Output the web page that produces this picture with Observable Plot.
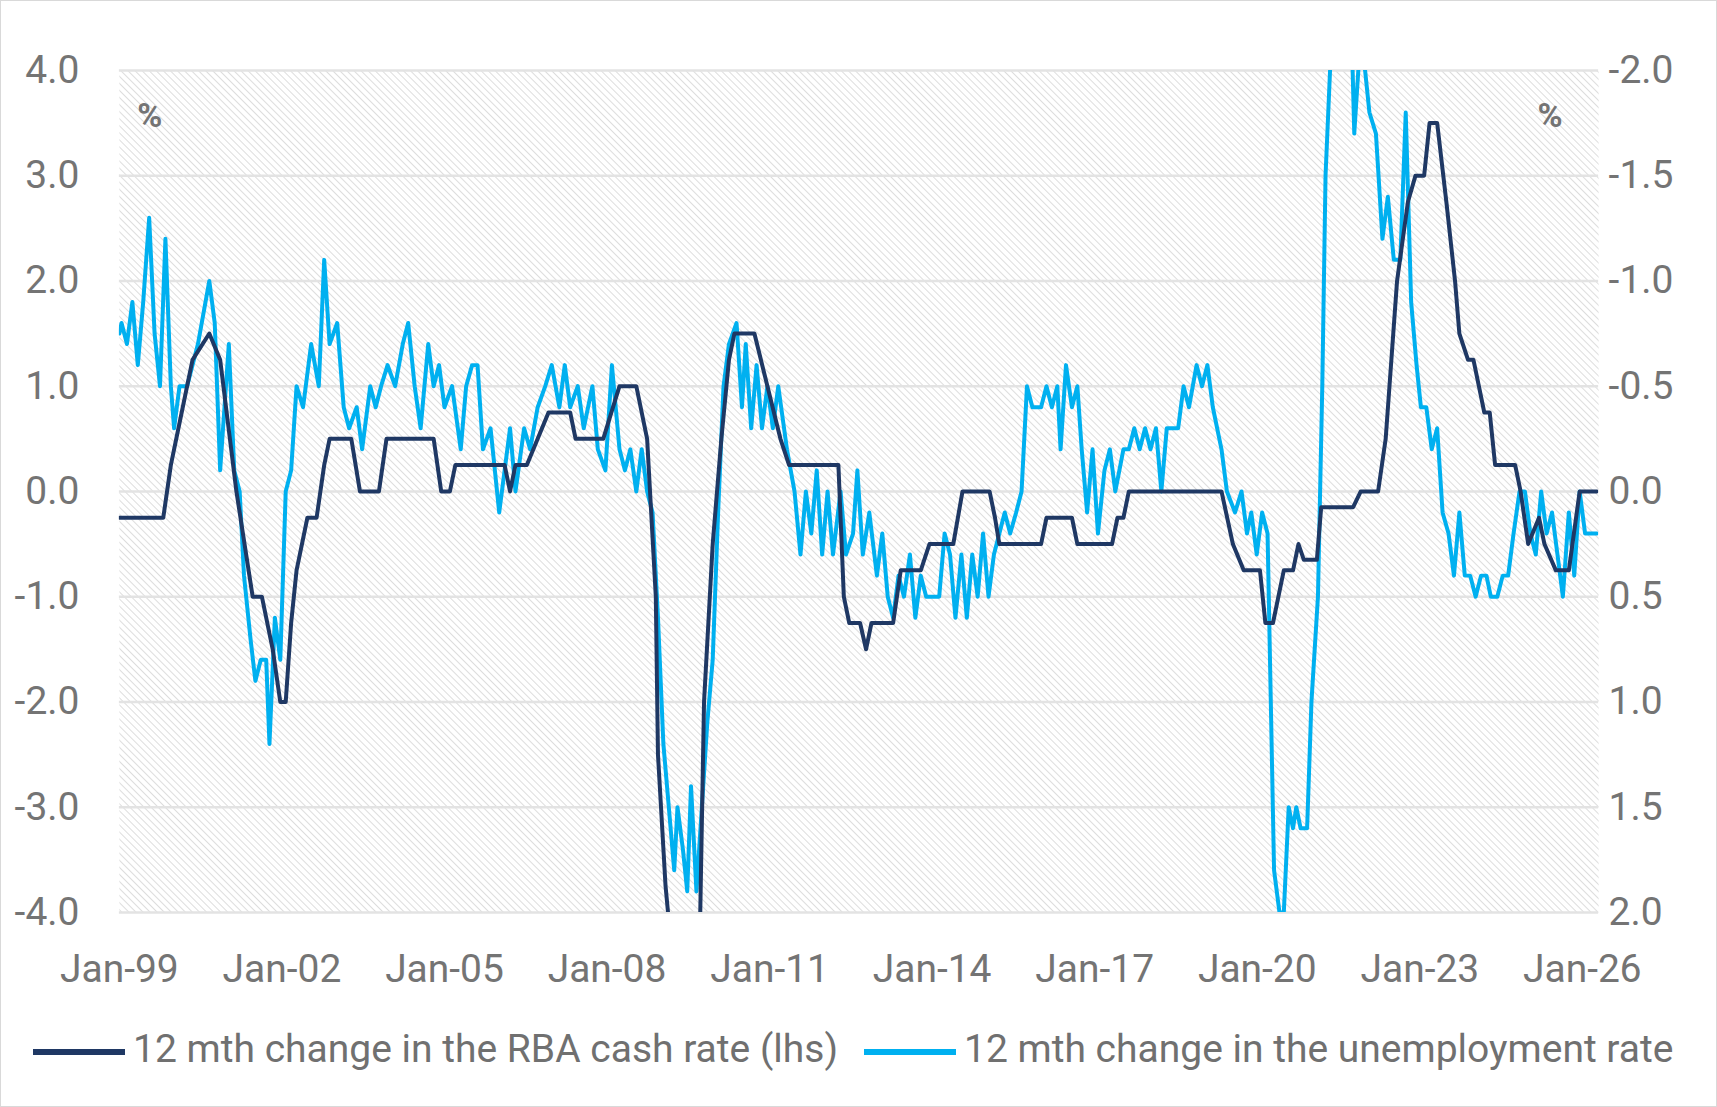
<!DOCTYPE html>
<html><head><meta charset="utf-8">
<script src="https://cdn.jsdelivr.net/npm/d3@7"></script>
<script src="https://cdn.jsdelivr.net/npm/@observablehq/plot@0.6"></script>
<style>
body{margin:0;background:#fff;font-family:Roboto,sans-serif;}
#wrap{position:relative;width:1715px;height:1105px;border:1px solid #d9d9d9;}
#legend{position:absolute;top:1025px;left:32px;display:flex;gap:26px;font-size:39px;color:#707070;align-items:center;white-space:nowrap;}
.sw{display:inline-block;width:92px;height:6px;margin-right:8px;vertical-align:middle;}
</style></head><body>
<div id="wrap"><div id="chart"></div>
<div id="legend"><span><span class="sw" style="background:#1f3864"></span>12 mth change in the RBA cash rate (lhs)</span><span><span class="sw" style="background:#00b0f0"></span>12 mth change in the unemployment rate</span></div></div>
<script>
const cashT=[1999.00,1999.81,1999.95,2000.15,2000.35,2000.66,2000.86,2001.16,2001.46,2001.63,2001.83,2001.97,2002.07,2002.17,2002.27,2002.47,2002.64,2002.78,2002.88,2003.28,2003.44,2003.79,2003.93,2004.80,2004.94,2005.10,2005.20,2006.11,2006.21,2006.31,2006.52,2006.72,2006.92,2007.32,2007.42,2007.93,2008.23,2008.54,2008.74,2008.90,2008.94,2009.08,2009.18,2009.71,2009.79,2009.95,2010.11,2010.25,2010.35,2010.72,2010.96,2011.20,2011.36,2012.27,2012.37,2012.47,2012.67,2012.78,2012.88,2013.28,2013.42,2013.79,2013.95,2014.39,2014.56,2015.06,2015.16,2015.24,2016.01,2016.11,2016.58,2016.68,2017.32,2017.42,2017.53,2017.63,2019.34,2019.55,2019.75,2020.05,2020.15,2020.29,2020.49,2020.66,2020.76,2020.86,2021.10,2021.18,2021.77,2021.91,2022.23,2022.37,2022.58,2022.78,2022.92,2023.08,2023.18,2023.32,2023.49,2023.65,2023.73,2023.89,2023.99,2024.09,2024.19,2024.29,2024.39,2024.76,2024.86,2025.00,2025.20,2025.30,2025.51,2025.75,2025.95,2026.27];
const cashV=[-0.25,-0.25,0.25,0.75,1.25,1.5,1.25,0,-1,-1,-1.5,-2,-2,-1.25,-0.75,-0.25,-0.25,0.25,0.5,0.5,0,0,0.5,0.5,0,0,0.25,0.25,0,0.25,0.25,0.5,0.75,0.75,0.5,0.5,1,1,0.5,-1,-2.5,-3.75,-4.3,-4.3,-2,-0.5,0.5,1.25,1.5,1.5,1,0.5,0.25,0.25,-1,-1.25,-1.25,-1.5,-1.25,-1.25,-0.75,-0.75,-0.5,-0.5,0,0,-0.25,-0.5,-0.5,-0.25,-0.25,-0.5,-0.5,-0.25,-0.25,0,0,-0.5,-0.75,-0.75,-1.25,-1.25,-0.75,-0.75,-0.5,-0.65,-0.65,-0.15,-0.15,0,0,0.5,2,2.75,3,3,3.5,3.5,2.75,2,1.5,1.25,1.25,1,0.75,0.75,0.25,0.25,0,-0.5,-0.25,-0.5,-0.75,-0.75,0,0];
const unempT=[1999.00,1999.04,1999.14,1999.24,1999.34,1999.44,1999.55,1999.65,1999.75,1999.85,1999.95,2000.01,2000.11,2000.25,2000.45,2000.66,2000.76,2000.86,2001.02,2001.12,2001.22,2001.30,2001.42,2001.51,2001.61,2001.71,2001.77,2001.87,2001.97,2002.07,2002.17,2002.27,2002.39,2002.54,2002.68,2002.78,2002.88,2003.02,2003.14,2003.24,2003.38,2003.48,2003.63,2003.73,2003.83,2003.95,2004.09,2004.23,2004.33,2004.45,2004.56,2004.70,2004.80,2004.90,2005.00,2005.14,2005.30,2005.40,2005.51,2005.61,2005.71,2005.85,2006.01,2006.11,2006.21,2006.31,2006.47,2006.58,2006.72,2006.86,2006.98,2007.12,2007.22,2007.32,2007.46,2007.57,2007.73,2007.83,2007.97,2008.09,2008.23,2008.33,2008.43,2008.54,2008.64,2008.74,2008.84,2008.94,2009.04,2009.14,2009.24,2009.30,2009.40,2009.48,2009.55,2009.65,2009.75,2009.85,2009.95,2010.05,2010.15,2010.25,2010.39,2010.49,2010.56,2010.66,2010.76,2010.86,2010.96,2011.06,2011.16,2011.32,2011.46,2011.57,2011.67,2011.77,2011.87,2011.97,2012.07,2012.17,2012.31,2012.41,2012.54,2012.62,2012.72,2012.84,2012.98,2013.08,2013.18,2013.28,2013.38,2013.48,2013.59,2013.69,2013.79,2013.89,2014.13,2014.23,2014.33,2014.43,2014.54,2014.64,2014.74,2014.84,2014.94,2015.04,2015.14,2015.24,2015.34,2015.44,2015.55,2015.65,2015.75,2015.85,2016.01,2016.11,2016.21,2016.31,2016.37,2016.47,2016.58,2016.68,2016.76,2016.86,2016.96,2017.06,2017.18,2017.28,2017.38,2017.53,2017.63,2017.73,2017.83,2017.93,2018.03,2018.13,2018.23,2018.33,2018.54,2018.64,2018.74,2018.88,2018.98,2019.08,2019.18,2019.34,2019.44,2019.59,2019.71,2019.81,2019.89,2019.99,2020.09,2020.19,2020.25,2020.31,2020.41,2020.49,2020.58,2020.66,2020.72,2020.80,2020.92,2021.00,2021.12,2021.20,2021.26,2021.36,2021.51,2021.63,2021.73,2021.79,2021.89,2021.99,2022.07,2022.19,2022.31,2022.41,2022.52,2022.64,2022.74,2022.84,2022.94,2023.02,2023.12,2023.22,2023.32,2023.42,2023.53,2023.63,2023.73,2023.83,2023.93,2024.03,2024.13,2024.23,2024.31,2024.43,2024.53,2024.63,2024.73,2024.84,2024.94,2025.04,2025.14,2025.24,2025.34,2025.44,2025.54,2025.64,2025.75,2025.85,2025.95,2026.05,2026.27];
const unempV=[-0.75,-0.8,-0.7,-0.9,-0.6,-0.9,-1.3,-0.75,-0.5,-1.2,-0.5,-0.3,-0.5,-0.5,-0.7,-1.0,-0.8,-0.1,-0.7,-0.1,0,0.4,0.7,0.9,0.8,0.8,1.2,0.6,0.8,0,-0.1,-0.5,-0.4,-0.7,-0.5,-1.1,-0.7,-0.8,-0.4,-0.3,-0.4,-0.2,-0.5,-0.4,-0.5,-0.6,-0.5,-0.7,-0.8,-0.5,-0.3,-0.7,-0.5,-0.6,-0.4,-0.5,-0.2,-0.5,-0.6,-0.6,-0.2,-0.3,0.1,-0.1,-0.3,0,-0.3,-0.2,-0.4,-0.5,-0.6,-0.4,-0.6,-0.4,-0.5,-0.3,-0.5,-0.2,-0.1,-0.6,-0.2,-0.1,-0.2,0,-0.2,0,0.1,0.6,1.2,1.5,1.8,1.5,1.7,1.9,1.4,1.9,1.5,1.1,0.8,0.1,-0.5,-0.7,-0.8,-0.4,-0.7,-0.3,-0.6,-0.3,-0.5,-0.3,-0.5,-0.2,0,0.3,0,0.2,-0.1,0.3,0,0.3,0,0.3,0.2,-0.1,0.3,0.1,0.4,0.2,0.5,0.6,0.4,0.5,0.3,0.6,0.4,0.5,0.5,0.2,0.3,0.6,0.3,0.6,0.3,0.5,0.2,0.5,0.3,0.2,0.1,0.2,0.1,0,-0.5,-0.4,-0.4,-0.5,-0.4,-0.5,-0.2,-0.6,-0.4,-0.5,-0.2,0.1,-0.2,0.2,-0.1,-0.2,0,-0.2,-0.2,-0.3,-0.2,-0.3,-0.2,-0.3,0,-0.3,-0.3,-0.5,-0.4,-0.6,-0.5,-0.6,-0.4,-0.2,0,0.1,0,0.2,0.1,0.3,0.1,0.2,1.0,1.8,2.0,2.0,1.5,1.6,1.5,1.6,1.6,1.0,0.5,-0.5,-1.5,-2.1,-2.3,-2.1,-2.3,-1.7,-2.1,-2.0,-1.8,-1.7,-1.2,-1.4,-1.1,-1.1,-1.8,-0.9,-0.6,-0.4,-0.4,-0.2,-0.3,0.1,0.2,0.4,0.1,0.4,0.4,0.5,0.4,0.4,0.5,0.5,0.4,0.4,0.2,0,0,0.2,0.3,0,0.2,0.1,0.3,0.5,0.1,0.4,0,0.2,0.2];
const xTicks=[1999,2002,2005,2008,2011,2014,2017,2020,2023,2026];
const yTicks=[-4,-3,-2,-1,0,1,2,3,4];
const cash=cashT.map((t,i)=>({t,v:cashV[i]}));
const unemp=unempT.map((t,i)=>({t,v:-2*unempV[i]}));
const grey="#747474";
const fmtX=d=>"Jan-"+String(d%100).padStart(2,"0");
const chart=Plot.plot({
  width:1717,height:1000,marginLeft:118,marginRight:118,marginTop:69,marginBottom:88,
  style:{fontFamily:"Roboto, sans-serif",fontSize:"39px",color:grey},
  x:{domain:[1999,2026.3],label:null},
  y:{domain:[-4,4],label:null},
  marks:[
    Plot.frame({fill:"url(#hatch)",stroke:null}),
    Plot.gridY(yTicks,{stroke:"#e3e3e3",strokeOpacity:1,strokeWidth:2.5}),
    Plot.axisX({ticks:xTicks,tickFormat:fmtX,tickSize:0,tickPadding:42,fontSize:39,label:null,textAnchor:"middle"}),
    Plot.axisY({ticks:yTicks,tickFormat:d=>d.toFixed(1),tickSize:0,tickPadding:40,fontSize:39,label:null}),
    Plot.axisY({anchor:"right",ticks:yTicks,tickFormat:d=>(d===0?0:-d/2).toFixed(1),tickSize:0,tickPadding:10,fontSize:39,label:null}),
    Plot.lineY(unemp,{x:"t",y:"v",stroke:"#00b0f0",strokeWidth:4,clip:true}),
    Plot.lineY(cash,{x:"t",y:"v",stroke:"#1f3864",strokeWidth:4,clip:true}),
    Plot.text(["%"],{frameAnchor:"top-left",dx:18,dy:32,fontSize:34,fontWeight:"bold",fill:grey}),
    Plot.text(["%"],{frameAnchor:"top-right",dx:-36,dy:32,fontSize:34,fontWeight:"bold",fill:grey})
  ]
});
const ns="http://www.w3.org/2000/svg";
const defs=document.createElementNS(ns,"defs");
defs.innerHTML='<pattern id="hatch" patternUnits="userSpaceOnUse" width="5" height="5" patternTransform="rotate(-45)"><rect width="5" height="5" fill="#ffffff"/><line x1="0" y1="0" x2="0" y2="5" stroke="#d9d9d9" stroke-width="1.8"/></pattern>';
chart.insertBefore(defs,chart.firstChild);
document.getElementById("chart").appendChild(chart);
</script></body></html>
